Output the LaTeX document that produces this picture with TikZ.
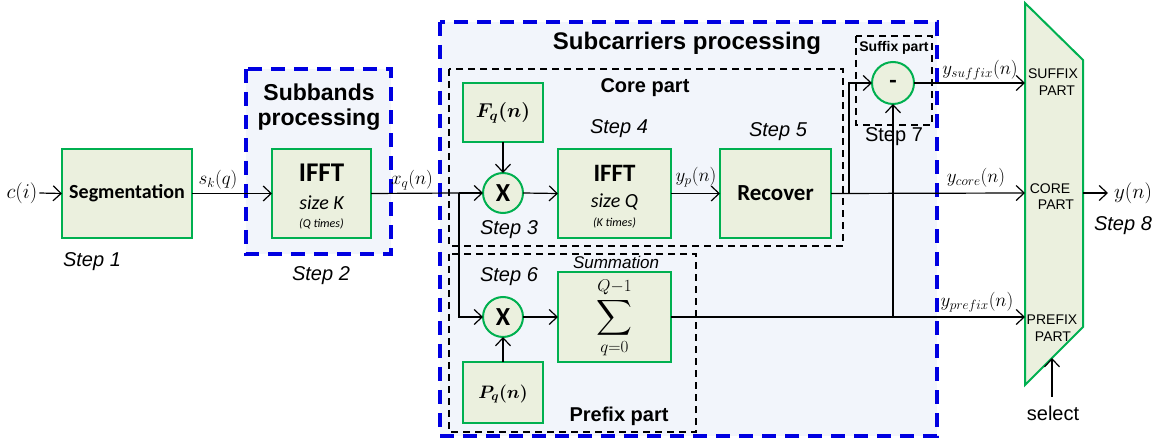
\RequirePackage{fix-cm}
\documentclass[tikz,border=0pt]{standalone}
\usepackage[no-math]{fontspec}
\usepackage{exscale}
\usepackage{bm}
\usetikzlibrary{arrows.meta}
\newfontfamily\carl{Carlito}
\newfontfamily\ari{Liberation Sans}
\definecolor{gbox}{RGB}{0,176,80}
\definecolor{gfill}{RGB}{235,240,222}
\definecolor{bblue}{RGB}{0,0,225}
\definecolor{bfill}{RGB}{242,245,251}
\DeclareMathSizes{35}{35}{17}{12}
\newcommand{\fsz}[1]{\fontsize{#1}{#1}\selectfont}
\begin{document}
\begin{tikzpicture}[x=1pt,y=-1pt,
  every node/.style={inner sep=0pt, outer sep=0pt},
  blk/.style={draw=gbox, fill=gfill, line width=2pt},
  circ/.style={circle, draw=gbox, fill=gfill, line width=2pt, minimum size=40pt},
  bluebox/.style={draw=bblue, fill=bfill, line width=3.5pt, dash pattern=on 14pt off 9pt},
  blackbox/.style={draw=black, line width=1.6pt, dash pattern=on 7pt off 5pt},
  conn/.style={line width=1.2pt, -{Straight Barb[length=8pt,width=15pt,line width=1.2pt]}},
  wire/.style={line width=1.2pt},
  stepit/.style={font=\ari\itshape\fsz{20}},
  steprm/.style={font=\ari\fsz{20}},
  ttl/.style={font=\ari\bfseries\fsz{#1}},
  mlab/.style={font=\fsz{19}},
  muxlab/.style={font=\ari\fsz{14}},
  bigt/.style={font=\carl\bfseries\fsz{#1}},
  smt/.style={font=\carl\itshape\fsz{#1}}
]
\useasboundingbox (0,0) rectangle (1160,446);

% group boxes
\draw[bluebox] (246,69) rectangle (391,254);
\draw[bluebox] (440,22) rectangle (937,436);
\draw[blackbox] (449,69) rectangle (843,246);
\draw[blackbox] (449,254) rectangle (696,432);
\draw[blackbox] (856,36) rectangle (932,125);

\node[ttl=23] (tsub1) at (319,92) {Subbands};
\node[ttl=23] (tsub2) at (319,120) {processing};
\node[ttl=24] (tsc) at (687,43) {Subcarriers processing};
\node[ttl=20] (tcore) at (645,88) {Core part};
\node[ttl=20] (tpre) at (619,416) {Prefix part};
\node[ttl=14] (tsuf) at (894,48) {Suffix part};

% blocks
\node[blk, minimum width=130pt, minimum height=89pt] (seg) at (127,193.5) {};
\node[bigt=20] (segt) at (127,193) {Segmentation};
\node[blk, minimum width=99pt, minimum height=89pt] (ifa) at (321.5,193.5) {};
\node[bigt=27] (ifat) at (321.5,173) {IFFT};
\node[smt=20] (ifas) at (321.5,203) {size K};
\node[smt=12] (ifan) at (321.5,224) {(Q times)};

\node[blk, minimum width=80pt, minimum height=59pt] (fq) at (503,112.5) {};
\node[font=\fsz{20}] (fqt) at (503,113) {$\bm{F_q(n)}$};
\node[circ] (x1) at (503,193) {};
\node[bigt=26] (x1t) at (503,193) {X};
\node[blk, minimum width=113pt, minimum height=89pt] (ifb) at (614.5,193.5) {};
\node[bigt=25] (ifbt) at (614.5,173) {IFFT};
\node[smt=20] (ifbs) at (614.5,202) {size Q};
\node[smt=12] (ifbn) at (614.5,223) {(K times)};
\node[blk, minimum width=111pt, minimum height=89pt] (rec) at (775.5,193.5) {};
\node[bigt=23] (rect) at (775.5,193) {Recover};

\node[circ] (x2) at (503,317) {};
\node[bigt=26] (x2t) at (503,317) {X};
\node[blk, minimum width=80pt, minimum height=61pt] (pq) at (503,392.5) {};
\node[font=\fsz{18}] (pqt) at (503,394) {$\bm{P_q(n)}$};
\node[blk, minimum width=113pt, minimum height=90pt] (sum) at (614.5,317) {};
\node[font=\fsz{35}] (sigma) at (614.5,318) {$\displaystyle\sum_{q=0}^{Q-1}$};
\node[font=\ari\itshape\fsz{17}] (summ) at (616,262) {Summation};

\node[circ, minimum size=42pt] (minus) at (893,83) {};
\node[bigt=24] (mint) at (893,84) {-};

% mux
\draw[gbox, fill=gfill, line width=2pt] (1025,3) -- (1083,60) -- (1083,327) -- (1025,385) -- cycle;
\coordinate (msuf) at (1025,83);
\coordinate (mcore) at (1025,193);
\coordinate (mpre) at (1025,317);
\coordinate (mout) at (1083,193);
\coordinate (yend) at (1108,193);
\coordinate (sel) at (1052,397);
\coordinate (seltip) at (1052,358);
\node[muxlab] (l1) at (1053,74) {SUFFIX};
\node[muxlab] (l2) at (1057,91) {PART};
\node[muxlab] (l3) at (1050,189) {CORE};
\node[muxlab] (l4) at (1056,205) {PART};
\node[muxlab] (l5) at (1052,320) {PREFIX};
\node[muxlab] (l6) at (1053,337) {PART};

% labels
\node[font=\fsz{21}] (ci) at (22,193) {$c(i)$};
\node[mlab] (skq) at (218,180) {$s_k(q)$};
\node[mlab] (xqn) at (412,180) {$x_q(n)$};
\node[mlab] (ypn) at (696,177) {$y_p(n)$};
\node[mlab] (ysuf) at (980,70) {$y_{suffix}(n)$};
\node[mlab] (ycore) at (976,178) {$y_{core}(n)$};
\node[mlab] (ypre) at (977,302) {$y_{prefix}(n)$};
\node[font=\fsz{21}] (yn) at (1133,193) {$y(n)$};
\node[font=\ari\fsz{20}] (selt) at (1053,413) {select};

\node[stepit] (s1) at (92,262) {Step 1};
\node[stepit] (s2) at (321,276) {Step 2};
\node[stepit] (s3) at (509,230) {Step 3};
\node[stepit] (s4) at (619,129) {Step 4};
\node[stepit] (s5) at (778,132) {Step 5};
\node[stepit] (s6) at (509,277) {Step 6};
\node[steprm] (s7) at (894,137) {Step 7};
\node[stepit] (s8) at (1123,226) {Step 8};

% connectors
\coordinate (br1) at (459,193);
\coordinate (br2) at (849,193);
\coordinate (br3) at (893,317);
\draw[conn] (ci.east) ++(2,0) -- (seg.west);
\draw[conn] (seg.east) -- (ifa.west);
\draw[wire] (ifa.east) -- (br1);
\draw[conn] (br1) -- (x1.west);
\draw[conn] (br1) |- (x2.west);
\draw[conn] (fq.south) -- (x1.north);
\draw[conn] (pq.north) -- (x2.south);
\draw[conn] (x1.east) -- (ifb.west);
\draw[conn] (ifb.east) -- (rec.west);
\draw[conn] (x2.east) -- (sum.west);
\draw[conn] (rec.east) -- (mcore);
\draw[conn] (br2) |- (minus.west);
\draw[conn] (sum.east) -- (mpre);
\draw[conn] (br3) -- (minus.south);
\draw[conn] (minus.east) -- (msuf);
\draw[conn] (mout) -- (yend);
\draw[conn] (sel) -- (seltip);
\end{tikzpicture}
\end{document}
